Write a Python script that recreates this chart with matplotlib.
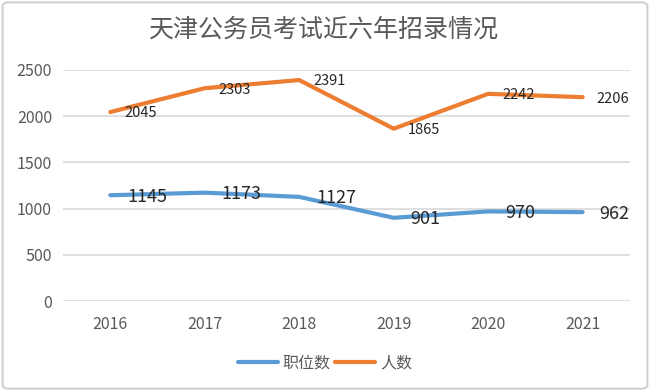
"""
天津公务员考试近六年招录情况 - line chart
"""

import matplotlib
matplotlib.use('Agg')
import matplotlib.pyplot as plt
from matplotlib.patches import FancyBboxPatch

plt.rcParams['font.family'] = ['Noto Sans CJK SC', 'DejaVu Sans']

years = ['2016', '2017', '2018', '2019', '2020', '2021']
positions = [1145, 1173, 1127, 901, 970, 962]      # 职位数
applicants = [2045, 2303, 2391, 1865, 2242, 2206]  # 人数
y_ticks = [0, 500, 1000, 1500, 2000, 2500]

blue = '#5B9BD5'
orange = '#ED7D31'
grey_text = '#595959'

fig = plt.figure(figsize=(6.5, 3.91), dpi=100)
ax = fig.add_axes([0.097, 0.23, 0.872, 0.591])

x = list(range(len(years)))
ax.plot(x, positions, color=blue, lw=3, solid_capstyle='round', label='职位数', zorder=3)
ax.plot(x, applicants, color=orange, lw=3, solid_capstyle='round', label='人数', zorder=3)

# data labels to the right of each point
for xi, v in zip(x, positions):
    ax.annotate(f'{v}', (xi, v), xytext=(12, -1), textcoords='offset points',
                ha='left', va='center', fontsize=13, color='#262626', zorder=4)
for xi, v in zip(x, applicants):
    ax.annotate(f'{v}', (xi, v), xytext=(10, -1), textcoords='offset points',
                ha='left', va='center', fontsize=10.5, color='#262626', zorder=4)

ax.set_xlim(-0.5, len(years) - 0.5)
ax.set_ylim(0, 2500)
ax.set_xticks(x)
ax.set_xticklabels(years)
ax.set_yticks(y_ticks)
ax.grid(True, axis='y', color='#d9d9d9', lw=1.2)
ax.set_axisbelow(True)
for s in ax.spines.values():
    s.set_visible(False)
ax.tick_params(axis='both', length=0, labelsize=11.5, labelcolor=grey_text)
ax.tick_params(axis='y', pad=8)
ax.tick_params(axis='x', pad=11)

fig.text(0.499, 0.923, '天津公务员考试近六年招录情况', ha='center', va='center',
         fontsize=18, color=grey_text)

fig.legend(loc='center', bbox_to_anchor=(0.5, 0.072), ncol=2, frameon=False,
           fontsize=11.5, handlelength=2.5, handletextpad=0.3, columnspacing=0.3,
           labelcolor=grey_text)

# outer chart border
fig.patches.append(FancyBboxPatch((0.004, 0.006), 0.992, 0.988,
                                  boxstyle='round,pad=0,rounding_size=0.01',
                                  transform=fig.transFigure, fill=False,
                                  edgecolor='#d0d0d0', lw=1.5))

plt.savefig('out.png', dpi=100)
plt.close()
